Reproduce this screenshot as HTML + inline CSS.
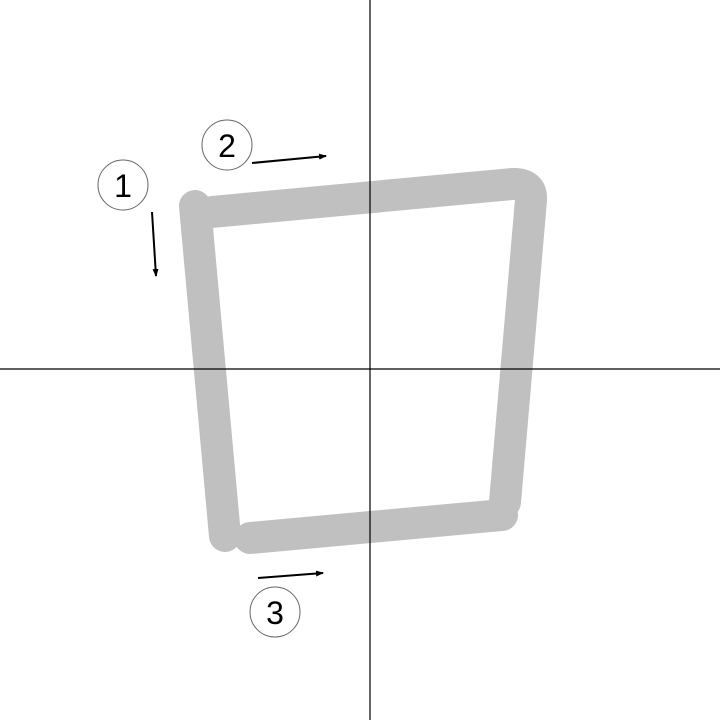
<!DOCTYPE html>
<html><head><meta charset="utf-8"><style>html,body{margin:0;padding:0;background:#fff}svg{display:block}</style></head>
<body>
<svg width="720" height="720" viewBox="0 0 720 720" xmlns="http://www.w3.org/2000/svg">
<defs><marker id="ah" markerWidth="8" markerHeight="6" refX="7" refY="3" orient="auto" markerUnits="userSpaceOnUse"><path d="M0,0 L8,3 L0,6 Z" fill="#000"/></marker></defs>
<line x1="370" y1="0" x2="370" y2="720" stroke="#000" stroke-width="1.2"/>
<line x1="0" y1="369" x2="720" y2="369" stroke="#000" stroke-width="1.2"/>
<g fill="none" stroke="#c0c0c0" stroke-width="32" stroke-linecap="round" stroke-linejoin="round" style="mix-blend-mode:multiply">
<path d="M195,206 L225,536"/>
<path d="M212,212 L512,184 Q532,183 531,200 L505,502"/>
<path d="M250,538 L502,515"/>
</g>
<g>
<circle cx="123" cy="185" r="25" fill="#fff" stroke="#666" stroke-width="1"/>
<text x="123" y="197" text-anchor="middle" font-family="Liberation Sans, sans-serif" font-size="32">1</text>
</g>
<g>
<circle cx="227" cy="145" r="25" fill="#fff" stroke="#666" stroke-width="1"/>
<text x="227" y="157" text-anchor="middle" font-family="Liberation Sans, sans-serif" font-size="32">2</text>
</g>
<g>
<circle cx="275" cy="612" r="25" fill="#fff" stroke="#666" stroke-width="1"/>
<text x="275" y="624" text-anchor="middle" font-family="Liberation Sans, sans-serif" font-size="32">3</text>
</g>
<line x1="152" y1="212" x2="156" y2="276" stroke="#000" stroke-width="2" marker-end="url(#ah)"/>
<line x1="252" y1="163" x2="326" y2="156" stroke="#000" stroke-width="2" marker-end="url(#ah)"/>
<line x1="258" y1="578" x2="323" y2="573" stroke="#000" stroke-width="2" marker-end="url(#ah)"/>
</svg>
</body></html>
